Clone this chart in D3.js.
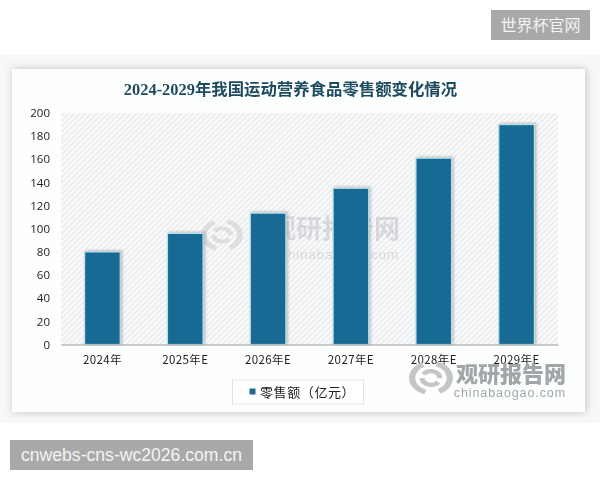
<!DOCTYPE html>
<html lang="zh"><head><meta charset="utf-8">
<script src="https://cdn.jsdelivr.net/npm/d3@7/dist/d3.min.js"></script>
<style>html,body{margin:0;padding:0;background:#fff}svg{display:block}</style></head>
<body><svg id="c" width="600" height="480"></svg>
<script>
const categories=["2024年","2025年E","2026年E","2027年E","2028年E","2029年E"];
const values=[80,96,113.5,135,161,190];
const yTicks=[0,20,40,60,80,100,120,140,160,180,200];
const titleText="2024-2029年我国运动营养食品零售额变化情况";
const legendLabel="零售额（亿元）";
const W={cn:"观研报告网",en:"chinabaogao.com"};

const cjk='"Noto Sans CJK SC","Noto Sans",sans-serif';
const svg=d3.select("#c");
const defs=svg.append("defs");
const hatch=defs.append("pattern").attr("id","hatch").attr("width",4).attr("height",4)
  .attr("patternUnits","userSpaceOnUse").attr("patternTransform","rotate(45)");
hatch.append("rect").attr("width",4).attr("height",4).attr("fill","#fafafb");
hatch.append("rect").attr("width",1.5).attr("height",4).attr("fill","#e9eaec");
const sh=defs.append("filter").attr("id","sh").attr("x","-20%").attr("y","-20%").attr("width","140%").attr("height","140%");
sh.append("feDropShadow").attr("dx",1).attr("dy",0).attr("stdDeviation",4).attr("flood-color","#999").attr("flood-opacity",.6);
const bs=defs.append("filter").attr("id","bs").attr("x","-30%").attr("y","-10%").attr("width","160%").attr("height","120%");
bs.append("feDropShadow").attr("dx",1.5).attr("dy",-1).attr("stdDeviation",1.3).attr("flood-color","#666").attr("flood-opacity",.4);
const soft=defs.append("filter").attr("id","soft");
soft.append("feGaussianBlur").attr("stdDeviation",.3);

// page bands and panel
svg.append("rect").attr("x",0).attr("y",55).attr("width",600).attr("height",368).attr("fill","#f7f8f9");
svg.append("rect").attr("x",12).attr("y",69).attr("width",573).attr("height",343).attr("fill","#fdfefe").attr("filter","url(#sh)");

const x=d3.scaleBand().domain(categories).range([61,558]).paddingInner(.57).paddingOuter(.285);
const y=d3.scaleLinear().domain([0,200]).range([344.5,113]);
const g=svg.append("g").attr("filter","url(#soft)");

g.append("rect").attr("x",x.range()[0]).attr("y",y(200)).attr("width",x.range()[1]-x.range()[0]).attr("height",y(0)-y(200)).attr("fill","url(#hatch)");

// faint watermark behind bars
const wm=g.append("g").attr("opacity",.5);
wm.append("text").attr("x",400).attr("y",238).attr("text-anchor","end").attr("font-family",cjk).attr("font-weight",700).attr("font-size",26).attr("fill","#b9bdc2").text(W.cn);
wm.append("text").attr("x",399).attr("y",259).attr("text-anchor","end").attr("font-family",'"Liberation Sans",sans-serif').attr("font-size",13.5).attr("letter-spacing",.8).attr("fill","#b9bdc2").text(W.en);
const logo=(sel,cx,cy,r,col)=>{
  const a=d3.arc();
  [[r*.72,r,.3,2.7],[r*.72,r,3.45,5.85],[r*.28,r*.52,-1,1.6],[r*.28,r*.52,2.2,4.7]].forEach(d=>{
    sel.append("path").attr("transform",`translate(${cx},${cy}) scale(1,.78)`)
      .attr("d",a({innerRadius:d[0],outerRadius:d[1],startAngle:d[2],endAngle:d[3]})).attr("fill",col);
  });
};
logo(wm,222,235,21,"#c6cacd");

// bars
g.append("g").selectAll("rect").data(categories).join("rect")
  .attr("x",d=>x(d)).attr("width",x.bandwidth())
  .attr("y",(d,i)=>y(values[i])).attr("height",(d,i)=>y(0)-y(values[i]))
  .attr("fill","#196a94").attr("stroke","#b9e0ea").attr("stroke-width",1.2).attr("filter","url(#bs)");

// axes
const ax=g.append("g").attr("transform",`translate(0,${y(0)})`).call(d3.axisBottom(x).tickSize(0).tickPadding(11));
ax.select(".domain").attr("stroke","#999").attr("stroke-width",1);
ax.selectAll("text").attr("font-family",cjk).attr("font-size",11.5).attr("fill","#222").attr("letter-spacing",.4);
const ay=g.append("g").attr("transform",`translate(61,0)`).call(d3.axisLeft(y).tickValues(yTicks).tickSize(0).tickPadding(11));
ay.select(".domain").remove();
ay.selectAll("text").attr("font-family",'"Open Sans","Noto Sans",sans-serif').attr("font-size",11.5).attr("fill","#222");

// title
g.append("text").attr("x",290.5).attr("y",95).attr("text-anchor","middle").attr("font-family",'"Liberation Serif","Noto Sans CJK SC",serif').attr("font-weight",700).attr("font-size",16.4).attr("fill","#1f4b5f").text(titleText);

// legend
g.append("rect").attr("x",232.5).attr("y",380).attr("width",131).attr("height",24).attr("fill","#fff").attr("stroke","#dfe3e6");
g.append("rect").attr("x",249.5).attr("y",388.5).attr("width",6).attr("height",6).attr("fill","#1d6a8c");
g.append("text").attr("x",260).attr("y",396.5).attr("font-family",cjk).attr("font-size",13).attr("letter-spacing",.6).attr("fill","#222").text(legendLabel);

// foreground watermark
const fw=g.append("g");
fw.append("text").attr("x",566).attr("y",382).attr("text-anchor","end").attr("font-family",cjk).attr("font-weight",900).attr("font-size",22).attr("fill","#9b9da0").attr("opacity",.9).text(W.cn);
fw.append("text").attr("x",566).attr("y",397).attr("text-anchor","end").attr("font-family",'"Liberation Sans",sans-serif').attr("font-size",12.5).attr("letter-spacing",.9).attr("fill","#a3a6a9").text(W.en);
logo(fw,431,378,22,"#c4c5c7");

// corner badges
const badge=(bx,by,w,h,t,size,font)=>{
  svg.append("rect").attr("x",bx).attr("y",by).attr("width",w).attr("height",h).attr("fill","#a9a9a9");
  svg.append("text").attr("x",bx+w/2).attr("y",by+h/2+size*.36).attr("text-anchor","middle").attr("font-family",font).attr("font-size",size).attr("fill","#f4f4f4").text(t);
};
badge(491,10,99,30,"世界杯官网",16,cjk);
badge(10,440,243,30,"cnwebs-cns-wc2026.com.cn",17.6,'"Liberation Sans",sans-serif');
</script></body></html>
